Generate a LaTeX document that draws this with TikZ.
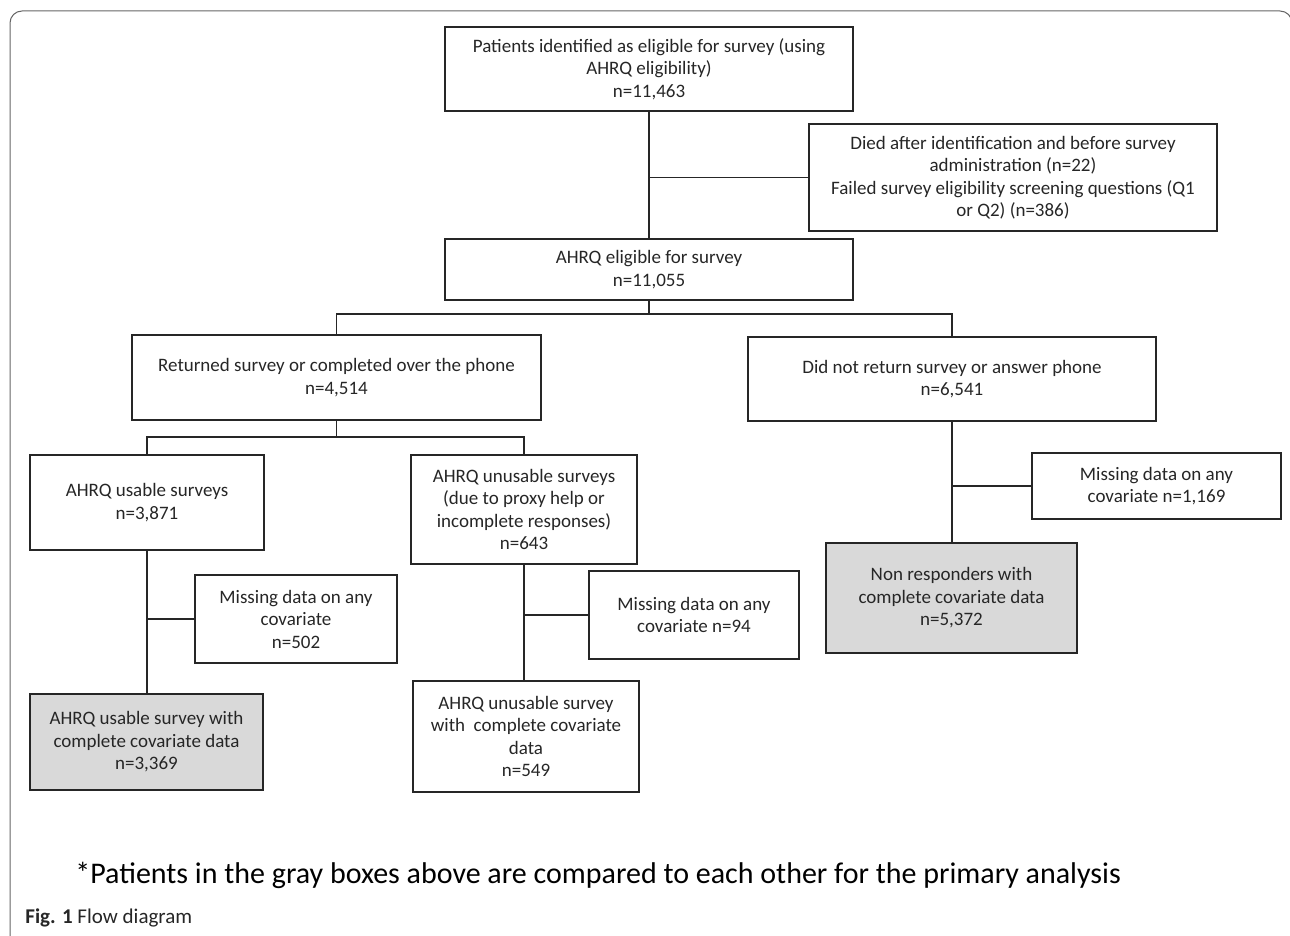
\documentclass[tikz,border=0pt]{standalone}
\usepackage{fontspec}
\setmainfont{Carlito}
\definecolor{boxgray}{HTML}{D9D9D9}
\definecolor{inkgray}{HTML}{262626}
\tikzset{
  flowbox/.style={draw=inkgray, line width=1.1pt, align=center, inner sep=2pt,
    font=\fontsize{9.5}{11.25}\selectfont, text=inkgray},
  graybox/.style={flowbox, fill=boxgray},
  link/.style={draw=inkgray, line width=0.9pt}
}
\begin{document}
\begin{tikzpicture}[x=0.5pt,y=-0.5pt]
\useasboundingbox (0,0) rectangle (1290,936);
% outer frame
\draw [gray!80!black, line width=0.5pt, rounded corners=6pt] (10,940) -- (10,11) -- (1292,11) -- (1292,60);
% boxes
\node (pat) at (649,69) [flowbox, minimum width=204pt, minimum height=42pt] {Patients identified as eligible for survey (using\\AHRQ eligibility)\\n=11,463};
\node (died) at (1013,177.5) [flowbox, minimum width=204pt, minimum height=53.5pt] {Died after identification and before survey\\administration (n=22)\\Failed survey eligibility screening questions (Q1\\or Q2) (n=386)};
\node (elig) at (649,269.5) [flowbox, minimum width=204pt, minimum height=30.5pt] {AHRQ eligible for survey\\n=11,055};
\node (ret) at (336.5,377.5) [flowbox, minimum width=204.5pt, minimum height=42.5pt] {Returned survey or completed over the phone\\n=4,514};
\node (noret) at (952,379) [flowbox, minimum width=204pt, minimum height=42pt] {Did not return survey or answer phone\\n=6,541};
\node (usable) at (147,502.5) [flowbox, minimum width=117pt, minimum height=47.5pt] {AHRQ usable surveys\\n=3,871};
\node (unusable) at (524,509.5) [flowbox, minimum width=113pt, minimum height=54.5pt] {AHRQ unusable surveys\\(due to proxy help or\\incomplete responses)\\n=643};
\node (missC) at (1156.5,486) [flowbox, minimum width=124.5pt, minimum height=33pt] {Missing data on any\\covariate n=1,169};
\node (nonresp) at (951.5,598) [graybox, minimum width=125.5pt, minimum height=55pt] {Non responders with\\complete covariate data\\n=5,372};
\node (missA) at (296,619) [flowbox, minimum width=101pt, minimum height=44pt] {Missing data on any\\covariate\\n=502};
\node (missB) at (694,615) [flowbox, minimum width=105pt, minimum height=44pt] {Missing data on any\\covariate n=94};
\node (usecomp) at (146.5,742) [graybox, minimum width=116.5pt, minimum height=48pt] {AHRQ usable survey with\\complete covariate data\\n=3,369};
\node (unusecomp) at (526,736.5) [flowbox, minimum width=113pt, minimum height=55.5pt] {AHRQ unusable survey\\with\ \ complete covariate\\data\\n=549};
% split points
\coordinate (splitA) at (649,314);
\coordinate (splitB) at (336.5,437);
% connectors
\draw [link] (pat.south) -- (elig.north);
\draw [link] (pat.south |- died.west) -- (died.west);
\draw [link] (elig.south) -- (splitA);
\draw [link] (ret.north) |- (splitA) -| (noret.north);
\draw [link] (ret.south) -- (splitB);
\draw [link] (usable.north) |- (splitB) -| (unusable.north);
\draw [link] (usable.south) -- (usable.south |- usecomp.north);
\draw [link] (usable.south |- missA.west) -- (missA.west);
\draw [link] (unusable.south) -- (unusable.south |- unusecomp.north);
\draw [link] (unusable.south |- missB.west) -- (missB.west);
\draw [link] (noret.south) -- (noret.south |- nonresp.north);
\draw [link] (noret.south |- missC.west) -- (missC.west);
% notes
\node (note) at (75,875) [anchor=west, inner sep=0pt, text=black, font=\fontsize{15}{18}\selectfont] {*Patients in the gray boxes above are compared to each other for the primary analysis};
\node (cap) at (25,918) [anchor=west, inner sep=0pt, text=inkgray, font=\fontsize{10.5}{12}\selectfont] {\textbf{Fig. 1} Flow diagram};
\end{tikzpicture}
\end{document}
